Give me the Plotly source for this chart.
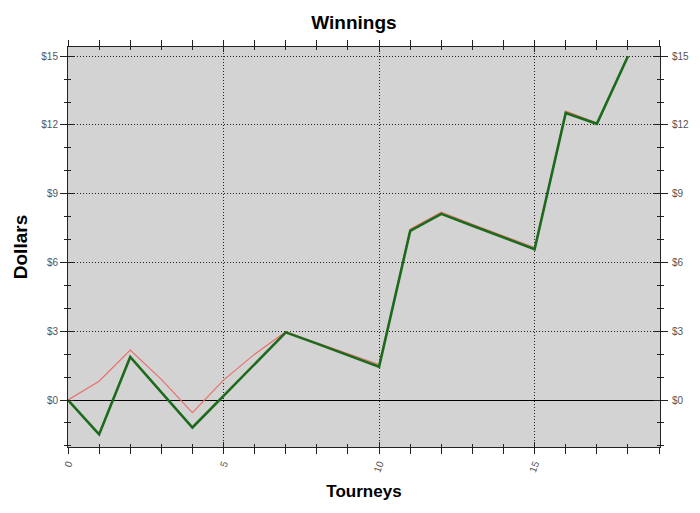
import plotly.graph_objects as go

tourneys = list(range(19))
green_vals = [0, -1.5, 1.88, 0.33, -1.2, 0.18, 1.57, 2.95, 2.46, 1.97, 1.45,
              7.38, 8.12, 7.6, 7.1, 6.58, 12.52, 12.05, 15.0]
red_vals = [0, 0.82, 2.18, 0.9, -0.55, 0.87, 2.0, 2.98, 2.5, 2.02, 1.55,
            7.45, 8.2, 7.67, 7.15, 6.65, 12.6, 12.08, 15.0]
y_tickvals = [0, 3, 6, 9, 12, 15]
y_ticktext = ["$0", "$3", "$6", "$9", "$12", "$15"]
x_tickvals = [0, 5, 10, 15]
x_ticktext = ["0", "5", "10", "15"]

fig = go.Figure()
fig.add_trace(go.Scatter(x=tourneys, y=red_vals, mode="lines",
                         line=dict(color="#e8706a", width=1.2),
                         showlegend=False, hoverinfo="skip"))
fig.add_trace(go.Scatter(x=tourneys, y=green_vals, mode="lines",
                         line=dict(color="#1c6a1c", width=2.6),
                         showlegend=False))
# invisible helper traces so the overlay axes get drawn
fig.add_trace(go.Scatter(x=tourneys, y=green_vals, mode="lines", yaxis="y2",
                         line=dict(width=0), opacity=0,
                         showlegend=False, hoverinfo="skip"))
fig.add_trace(go.Scatter(x=tourneys, y=green_vals, mode="lines",
                         xaxis="x2", yaxis="y3",
                         line=dict(width=0), opacity=0,
                         showlegend=False, hoverinfo="skip"))

xr = [0, 19.03]
yr = [-2.05, 15.4]
axcol = "#222222"
tickfont = dict(family="Arial, Liberation Sans", size=10, color="#555555")
titlefont = dict(family="Arial, Liberation Sans", size=19, color="black")
fig.update_layout(
    width=692, height=505,
    margin=dict(l=60, r=40, t=39, b=66),
    paper_bgcolor="white", plot_bgcolor="#d3d3d3",
    title=dict(text="<b>Winnings</b>", x=0.5, xanchor="center", y=0.971,
               yanchor="middle", font=titlefont),
    xaxis=dict(range=xr, tickvals=x_tickvals, ticktext=x_ticktext,
               tickangle=-70, tickfont=tickfont, automargin=False,
               showline=True, linecolor=axcol, linewidth=1,
               mirror="allticks", ticks="outside", ticklen=6, tickcolor=axcol,
               minor=dict(dtick=1, ticks="outside", ticklen=3, tickcolor=axcol,
                          showgrid=False),
               showgrid=True, gridcolor="#222222", griddash="1px,2px", gridwidth=1,
               zeroline=False,
               title=dict(text="<b>Tourneys</b>", standoff=12,
                          font=dict(family="Arial, Liberation Sans", size=17, color="black"))),
    xaxis2=dict(range=xr, overlaying="x", side="bottom", automargin=False,
                tickvals=x_tickvals, showticklabels=False,
                mirror="allticks", showline=False,
                ticks="inside", ticklen=5, tickcolor=axcol,
                minor=dict(dtick=1, ticks="inside", ticklen=3, tickcolor=axcol),
                showgrid=False, zeroline=False),
    yaxis=dict(range=yr, tickvals=y_tickvals, ticktext=y_ticktext,
               tickfont=tickfont, automargin=False,
               showline=True, linecolor=axcol, linewidth=1,
               mirror="allticks", ticks="outside", ticklen=7, tickcolor=axcol,
               minor=dict(dtick=1, ticks="outside", ticklen=3, tickcolor=axcol,
                          showgrid=False),
               showgrid=True, gridcolor="#222222", griddash="1px,2px", gridwidth=1,
               zeroline=True, zerolinecolor="black", zerolinewidth=1,
               title=dict(text="<b>Dollars</b>", standoff=8, font=titlefont)),
    yaxis2=dict(range=yr, overlaying="y", side="right", automargin=False,
                tickvals=y_tickvals, ticktext=y_ticktext, tickfont=tickfont,
                ticks="outside", ticklen=9, tickcolor="rgba(0,0,0,0)",
                showgrid=False, zeroline=False, showline=False),
    yaxis3=dict(range=yr, overlaying="y", side="left", automargin=False,
                tickvals=y_tickvals, showticklabels=False,
                mirror="allticks", showline=False,
                ticks="inside", ticklen=6, tickcolor=axcol,
                minor=dict(dtick=1, ticks="inside", ticklen=3, tickcolor=axcol),
                showgrid=False, zeroline=False),
)

fig.write_html("out.html")
